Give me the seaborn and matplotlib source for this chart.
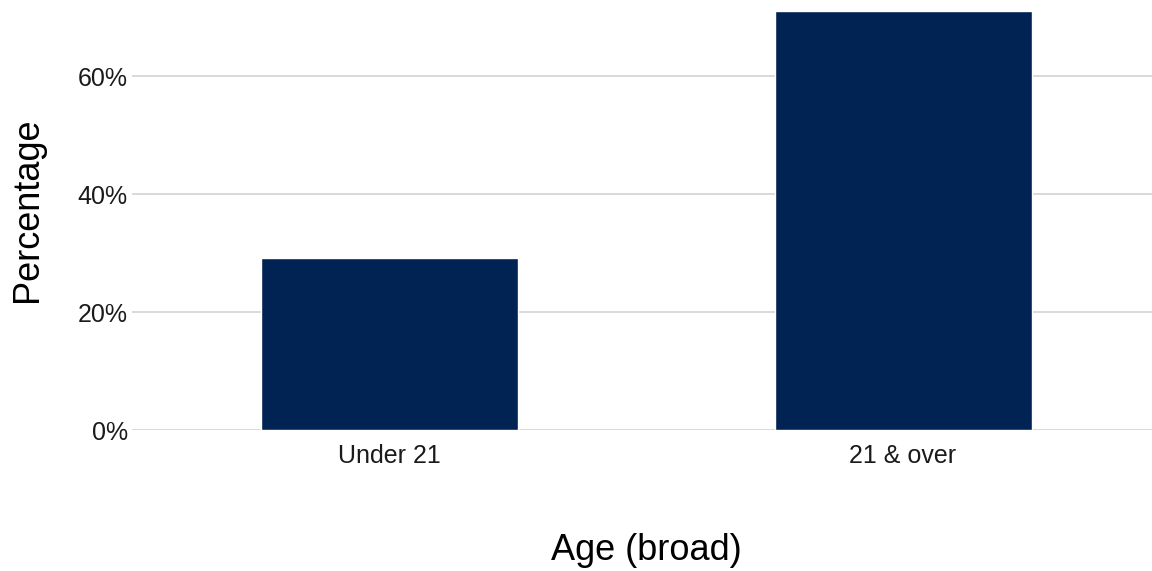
import matplotlib
matplotlib.use("Agg")
import matplotlib.pyplot as plt
import matplotlib.ticker as mticker
import pandas as pd
import seaborn as sns

# Data
AGE_GROUPS = ["Under 21", "21 & over"]
PERCENTAGES = [29.1, 71.1]
Y_TICKS = [0, 20, 40, 60]

BAR_COLOR = "#012353"
GRID_COLOR = "#d9d9d9"

sns.set_theme(style="white")
plt.rcParams['font.family'] = ['Liberation Sans', 'DejaVu Sans']

df = pd.DataFrame({"Age (broad)": AGE_GROUPS, "Percentage": PERCENTAGES})

fig = plt.figure(figsize=(11.52, 5.71), dpi=100)
ax = fig.add_axes([132 / 1152, 1 - 430 / 571, (1160 - 132) / 1152, 420 / 571])

sns.barplot(data=df, x="Age (broad)", y="Percentage", color=BAR_COLOR,
            width=0.5, saturation=1, ax=ax, zorder=3)

ax.set_xlim(-0.5, 1.5)
ax.set_ylim(0, 71.2)
ax.set_yticks(Y_TICKS)
ax.yaxis.set_major_formatter(mticker.FuncFormatter(lambda v, _: f"{v:.0f}%"))
ax.grid(axis="y", color=GRID_COLOR, linewidth=1.4, zorder=0)
ax.grid(axis="x", visible=False)
for spine in ax.spines.values():
    spine.set_visible(False)

ax.tick_params(axis="y", length=0, pad=3, labelsize=18, labelcolor="#1a1a1a")
ax.tick_params(axis="x", length=0, pad=10, labelsize=18, labelcolor="#1a1a1a")
ax.set_xlabel("Age (broad)", fontsize=26, labelpad=47, color="black")
ax.set_ylabel("Percentage", fontsize=26, color="black")
ax.yaxis.set_label_coords(-0.0846, 0.524)

fig.savefig("out.png", dpi=100)
